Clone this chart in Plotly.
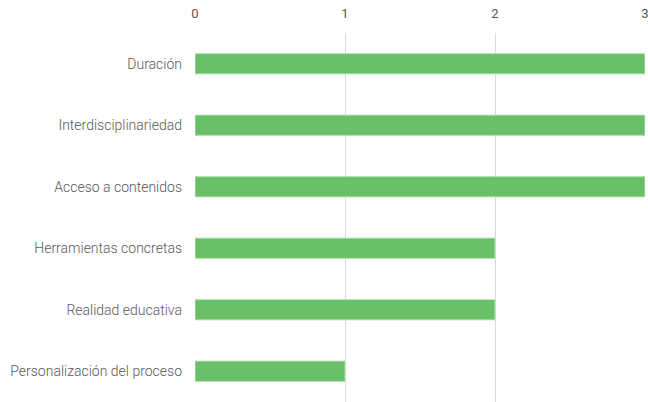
import plotly.graph_objects as go

categories = ["Duración", "Interdisciplinariedad", "Acceso a contenidos",
              "Herramientas concretas", "Realidad educativa", "Personalización del proceso"]
values = [3, 3, 3, 2, 2, 1]
tick_vals = [0, 1, 2, 3]

fig = go.Figure(go.Bar(
    x=values, y=categories, orientation="h",
    marker=dict(color="#6abf69", line=dict(color="#b5e6ae", width=1)),
    width=0.33,
))
fig.update_layout(
    width=648, height=402,
    margin=dict(l=195, r=3, t=33, b=0),
    plot_bgcolor="white", paper_bgcolor="white",
    font=dict(family="Roboto", size=14, color="#595959", weight=300),
    showlegend=False,
)
fig.update_xaxes(side="top", range=[0, 3], tickvals=tick_vals, showgrid=True,
                 gridcolor="#d9d9d9", gridwidth=1, zeroline=False, showline=False,
                 ticklabelstandoff=11, automargin=False, ticklabeloverflow="allow",
                 tickfont=dict(size=13, family="Roboto", weight=400, color="#555555"))
fig.update_yaxes(categoryorder="array", categoryarray=categories[::-1],
                 showgrid=False, showline=False, zeroline=False,
                 ticklabelstandoff=12, automargin=False)
fig.write_html("out.html", config={"displayModeBar": False},
               post_script="document.body.style.margin='0';document.body.style.overflow='hidden';")
